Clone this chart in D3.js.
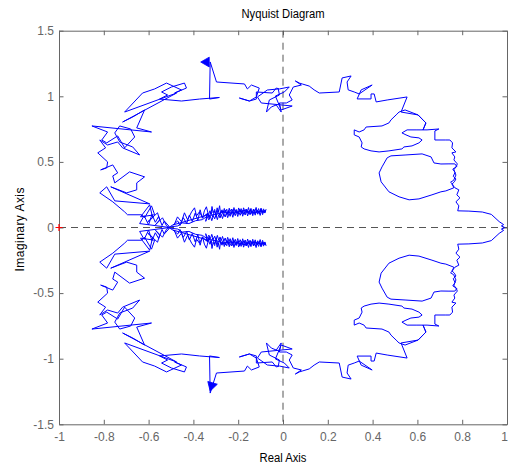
<!DOCTYPE html>
<html><head><meta charset="utf-8">
<script src="https://cdn.jsdelivr.net/npm/d3@7"></script>
<style>body{margin:0;background:#fff}svg{display:block}</style>
</head><body>
<script>
const titleText = "Nyquist Diagram";
const xLabelText = "Real Axis";
const yLabelText = "Imaginary Axis";
const xTicks = [-1, -0.8, -0.6, -0.4, -0.2, 0, 0.2, 0.4, 0.6, 0.8, 1];
const xTickLabels = ["-1", "-0.8", "-0.6", "-0.4", "-0.2", "0", "0.2", "0.4", "0.6", "0.8", "1"];
const yTicks = [-1.5, -1, -0.5, 0, 0.5, 1, 1.5];
const yTickLabels = ["-1.5", "-1", "-0.5", "0", "0.5", "1", "1.5"];

// positive-frequency branch [Re, Im]; the negative-frequency branch is its complex conjugate
const posBranchOuter = [
 [0.99,0.0],[0.975,0.012],[0.985,0.022],[0.965,0.045],[0.93,0.10],[0.89,0.118],[0.83,0.125],[0.78,0.127],
 [0.785,0.165],[0.772,0.196],[0.79,0.226],[0.776,0.249],[0.785,0.287],[0.768,0.302],[0.754,0.33],[0.765,0.348],[0.772,0.37],[0.76,0.39],[0.768,0.42],[0.758,0.445],[0.776,0.465],[0.767,0.485],
 [0.741,0.485],[0.705,0.484],[0.674,0.492],[0.661,0.538],[0.621,0.561],[0.549,0.553],[0.482,0.546],[0.465,0.531],[0.442,0.462],[0.429,0.416],[0.438,0.348],[0.473,0.272],[0.518,0.234],[0.563,0.211],[0.607,0.218],[0.665,0.249],[0.705,0.272],[0.727,0.279],[0.762,0.302],
 [0.757,0.33],[0.748,0.345],[0.762,0.36],[0.772,0.40],[0.763,0.44],[0.775,0.47],[0.778,0.485],
 [0.763,0.515],[0.767,0.538],[0.754,0.569],[0.772,0.576],[0.754,0.607],[0.757,0.645],[0.745,0.667],[0.727,0.667],[0.678,0.667],[0.678,0.736],[0.696,0.751],
 [0.643,0.744],[0.598,0.744],[0.554,0.744],[0.531,0.721],[0.549,0.706],[0.571,0.690],[0.607,0.683],[0.621,0.667],[0.607,0.645],[0.576,0.622],[0.540,0.614],[0.531,0.599],[0.473,0.584],[0.429,0.576],[0.393,0.584],[0.362,0.599],[0.349,0.614],[0.353,0.645],[0.340,0.690],[0.318,0.706],[0.318,0.744],[0.340,0.728],[0.362,0.744],[0.371,0.766],[0.442,0.774],[0.473,0.797],[0.482,0.820],[0.505,0.858],[0.518,0.880],[0.545,0.896],[0.603,0.858],[0.638,0.797],[0.625,0.744],[0.638,0.797],[0.603,0.858],[0.527,0.880],[0.554,0.995],
 [0.465,0.972],[0.416,0.957],[0.407,1.018],[0.393,1.018],[0.393,0.980],[0.331,0.980],[0.349,1.049],[0.398,1.086],[0.340,1.018],[0.318,1.033],[0.291,1.049],[0.286,1.109],[0.304,1.155],[0.264,1.140],[0.251,1.033],[0.162,1.025],[0.139,1.049],[0.117,1.078],[0.086,1.094],[0.073,1.101],
 [0.055,1.117],[0.082,1.086],[0.046,1.071],[0.028,1.010],[0.041,0.972],[0.015,0.949],[-0.016,0.949],[-0.008,0.880],[-0.030,0.934],[-0.052,0.919],[-0.074,0.880],[-0.061,0.972],[-0.016,1.010],[-0.021,1.056],[-0.070,1.048],[-0.114,0.995],[-0.097,0.949],[0.041,0.926],[-0.008,0.896],[-0.034,1.002],[0.006,1.033],[0.028,1.071],[-0.016,1.056],[-0.030,1.063],[-0.048,1.025],[-0.119,1.033],[-0.119,0.979],[-0.150,0.964],[-0.195,0.987],[-0.150,0.964],[-0.119,0.995],[-0.106,1.063],[-0.141,1.086],[-0.159,1.056],[-0.172,1.094],[-0.297,1.109],[-0.325,1.262],[-0.328,0.979],[-0.284,0.991],[-0.373,0.979],
 [-0.453,0.964],[-0.551,0.979],[-0.515,1.010],[-0.542,1.033],[-0.498,1.071],[-0.440,1.101],[-0.431,1.063],[-0.484,1.025],[-0.453,1.048],[-0.520,1.101],[-0.573,1.056],[-0.627,1.025],[-0.707,0.880],[-0.475,1.025],[-0.716,0.804],[-0.671,0.842],[-0.618,0.896],[-0.653,0.759],[-0.587,0.728],[-0.853,0.774],[-0.783,0.728],[-0.809,0.667],[-0.787,0.645],[-0.738,0.698],[-0.707,0.607],[-0.662,0.690],[-0.680,0.751],[-0.729,0.774],[-0.751,0.721],[-0.729,0.652],[-0.671,0.614],[-0.640,0.553],[-0.716,0.607],[-0.738,0.652],[-0.783,0.629],[-0.818,0.667],[-0.792,0.607],[-0.827,0.569],[-0.783,0.500],[-0.787,0.454],[-0.814,0.439],[-0.760,0.477],[-0.738,0.416],[-0.760,0.393],[-0.751,0.340],[-0.685,0.424],[-0.618,0.386],[-0.653,0.340],[-0.653,0.287],[-0.698,0.264],[-0.769,0.310],[-0.595,0.180],[-0.751,0.203],[-0.787,0.310],[-0.818,0.264],[-0.760,0.196],[-0.707,0.119],[-0.694,0.097],[-0.631,0.097],[-0.618,0.074],[-0.587,0.165],[-0.573,0.097]
];

// low-frequency knot around Re = -0.5 and the band that runs towards Re = -0.08
const posBranchInner = [
 [-0.636,0.081],[-0.595,0.173],[-0.582,0.074],[-0.604,0.043],[-0.560,0.112],[-0.551,0.059],[-0.569,0.021],[-0.538,0.074],[-0.520,0.013],[-0.506,0.0],
 [-0.640,0.030],[-0.620,0.090],[-0.600,0.020],[-0.585,0.100],[-0.570,0.040],[-0.555,0.085],[-0.540,0.015],[-0.530,0.050],[-0.506,0.004],
 [-0.484,0.028],[-0.471,0.081],[-0.453,0.043],[-0.440,0.112],[-0.426,0.059],[-0.408,0.119],[-0.395,0.150],[-0.386,0.089],[-0.373,0.119],[-0.359,0.074],[-0.351,0.127],[-0.342,0.158],[-0.333,0.097],
 [-0.490,0.020],[-0.470,0.050],[-0.460,0.015],[-0.445,0.075],[-0.430,0.030],[-0.418,0.095],[-0.405,0.045],[-0.392,0.110],[-0.380,0.055],[-0.370,0.135],[-0.360,0.070],[-0.345,0.100],
 [-0.333,0.097],[-0.326,0.128],[-0.321,0.104],[-0.317,0.160],[-0.312,0.112],[-0.305,0.138],[-0.300,0.095],[-0.294,0.150],[-0.289,0.118],[-0.283,0.166],[-0.279,0.110],[-0.272,0.135],[-0.268,0.108],[-0.262,0.145],[-0.257,0.116],[-0.251,0.139],[-0.246,0.101],[-0.240,0.147],[-0.236,0.121],[-0.230,0.141],[-0.224,0.109],[-0.219,0.152],[-0.214,0.118],[-0.209,0.138],[-0.203,0.112],[-0.198,0.149],[-0.192,0.120],[-0.187,0.144],[-0.181,0.108],[-0.176,0.150],[-0.170,0.122],[-0.165,0.140],[-0.160,0.111],[-0.154,0.152],[-0.149,0.119],[-0.143,0.146],[-0.137,0.113],[-0.132,0.141],[-0.126,0.120],[-0.120,0.153],[-0.115,0.114],[-0.109,0.144],[-0.104,0.118],[-0.098,0.148],[-0.093,0.116],[-0.087,0.142],[-0.082,0.121],[-0.076,0.137],
 [-0.081,0.110],[-0.086,0.131],[-0.091,0.098],[-0.097,0.127],[-0.102,0.092],[-0.108,0.124],[-0.113,0.101],[-0.119,0.130],[-0.124,0.094],[-0.130,0.122],[-0.135,0.090],[-0.141,0.126],[-0.147,0.097],[-0.152,0.120],[-0.158,0.088],[-0.163,0.125],[-0.169,0.095],[-0.174,0.119],[-0.180,0.086],[-0.185,0.123],[-0.191,0.093],[-0.197,0.117],[-0.202,0.084],[-0.208,0.120],[-0.213,0.090],[-0.219,0.113],[-0.224,0.078],[-0.230,0.116],[-0.236,0.085],[-0.241,0.108],[-0.247,0.075],[-0.253,0.112],[-0.258,0.080],[-0.264,0.104],[-0.270,0.068],[-0.276,0.101],[-0.281,0.072],[-0.287,0.098],[-0.293,0.060],[-0.299,0.094],[-0.305,0.066],[-0.311,0.090],[-0.318,0.052],[-0.324,0.085],[-0.331,0.058],[-0.338,0.083],[-0.345,0.047],
 [-0.338,0.110],[-0.330,0.072],[-0.322,0.118],[-0.314,0.080],[-0.306,0.126],[-0.298,0.086],[-0.290,0.131],[-0.282,0.092],[-0.274,0.127],[-0.266,0.095],[-0.258,0.133],[-0.250,0.098],[-0.242,0.130],[-0.234,0.100],[-0.226,0.136],[-0.218,0.103],[-0.210,0.131],[-0.202,0.105],[-0.194,0.138],[-0.186,0.106],[-0.178,0.133],[-0.170,0.108],[-0.162,0.139],[-0.154,0.107],[-0.146,0.134],[-0.138,0.105],[-0.130,0.137],[-0.122,0.109],[-0.114,0.133],[-0.106,0.106],[-0.098,0.138],[-0.090,0.110],[-0.083,0.130],[-0.078,0.118],
 [-0.095,0.125],[-0.130,0.113],[-0.175,0.128],[-0.220,0.110],[-0.265,0.117],[-0.300,0.100],[-0.335,0.090],[-0.360,0.060],[-0.390,0.052],[-0.420,0.030],[-0.450,0.035],[-0.470,0.012],[-0.502,0.005]
];

// direction arrows drawn on each branch
const arrowRe = [-0.342, -0.318];
const arrowIm = [1.261, -1.205];
const arrowAngle = [-90, 196];

// critical point
const criticalPoint = [-1, 0];

const W = 508, H = 466;
const margin = {left: 59, right: 507, top: 30.7, bottom: 424.3};
const FONT = "'Liberation Sans', Arial, sans-serif";
const svg = d3.select("body").append("svg").attr("width", W).attr("height", H)
  .style("font-family", FONT);

const x = d3.scaleLinear().domain([-1, 1]).range([margin.left, margin.right]);
const y = d3.scaleLinear().domain([-1.5, 1.5]).range([margin.bottom, margin.top]);

svg.append("defs").append("clipPath").attr("id", "clip")
  .append("rect").attr("x", margin.left).attr("y", margin.top)
  .attr("width", margin.right - margin.left).attr("height", margin.bottom - margin.top);

const axisColor = "#666";
const tickLen = 4.5;

const gB = svg.append("g").attr("transform", `translate(0,${margin.bottom})`)
  .call(d3.axisBottom(x).tickValues(xTicks).tickFormat((d, i) => xTickLabels[i])
    .tickSizeInner(-tickLen).tickSizeOuter(0).tickPadding(8));
const gT = svg.append("g").attr("transform", `translate(0,${margin.top})`)
  .call(d3.axisTop(x).tickValues(xTicks).tickFormat("").tickSizeInner(-tickLen).tickSizeOuter(0));
const gL = svg.append("g").attr("transform", `translate(${margin.left},0)`)
  .call(d3.axisLeft(y).tickValues(yTicks).tickFormat((d, i) => yTickLabels[i])
    .tickSizeInner(-tickLen).tickSizeOuter(0).tickPadding(5));
const gR = svg.append("g").attr("transform", `translate(${margin.right},0)`)
  .call(d3.axisRight(y).tickValues(yTicks).tickFormat("").tickSizeInner(-tickLen).tickSizeOuter(0));

[gB, gT, gL, gR].forEach(g => {
  g.attr("color", axisColor);
  g.selectAll("text").attr("font-size", 12).attr("font-family", FONT).attr("fill", axisColor);
  g.selectAll("line, path").attr("stroke-width", 1);
});
// keep the last x label inside the window
gB.selectAll(".tick text").filter(d => d === 1).attr("dx", -3);

// zero lines
const plot = svg.append("g").attr("clip-path", "url(#clip)");
plot.append("line").attr("x1", x(0)).attr("x2", x(0)).attr("y1", margin.top).attr("y2", margin.bottom)
  .attr("stroke", "#555").attr("stroke-dasharray", "7,5").attr("stroke-width", 1);
plot.append("line").attr("x1", margin.left).attr("x2", margin.right).attr("y1", y(0)).attr("y2", y(0))
  .attr("stroke", "#555").attr("stroke-dasharray", "7,5").attr("stroke-width", 1);

// branches
const posBranch = posBranchOuter.concat(posBranchInner);
const negBranch = posBranch.map(([re, im]) => [re, -im]);
const line = d3.line().x(d => x(d[0])).y(d => y(d[1]));
[posBranch, negBranch].forEach(br => {
  plot.append("path").attr("d", line(br)).attr("fill", "none")
    .attr("stroke", "#0000ff").attr("stroke-width", 1);
});

// arrows
arrowRe.forEach((re, i) => {
  svg.append("path").attr("d", d3.symbol(d3.symbolTriangle, 42)())
    .attr("transform", `translate(${x(re)},${y(arrowIm[i])}) rotate(${arrowAngle[i]})`)
    .attr("fill", "#0000ff").attr("stroke", "#0000ff").attr("stroke-width", 0.8);
});

// critical point marker
const cx = x(criticalPoint[0]), cy = y(criticalPoint[1]);
svg.append("path").attr("d", `M${cx - 3.5},${cy}H${cx + 3.5}M${cx},${cy - 3.5}V${cy + 3.5}`)
  .attr("stroke", "#ff0000").attr("stroke-width", 1.2);

// texts
svg.append("text").attr("x", (margin.left + margin.right) / 2).attr("y", 18)
  .attr("text-anchor", "middle").attr("font-size", 12).attr("fill", "#000")
  .attr("textLength", 83).attr("lengthAdjust", "spacingAndGlyphs").text(titleText);
svg.append("text").attr("x", (margin.left + margin.right) / 2).attr("y", 462)
  .attr("text-anchor", "middle").attr("font-size", 12).attr("fill", "#000")
  .attr("textLength", 47).attr("lengthAdjust", "spacingAndGlyphs").text(xLabelText);
svg.append("text").attr("transform", `translate(24,${(margin.top + margin.bottom) / 2 + 2}) rotate(-90)`)
  .attr("text-anchor", "middle").attr("font-size", 12).attr("fill", "#000")
  .attr("textLength", 84).attr("lengthAdjust", "spacing").text(yLabelText);
</script>
</body></html>
